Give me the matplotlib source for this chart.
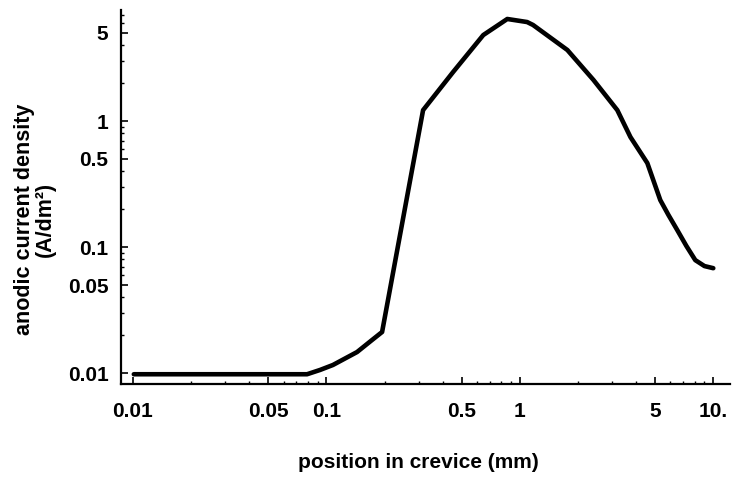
import matplotlib
matplotlib.use('Agg')
import matplotlib.pyplot as plt
from matplotlib.ticker import FixedLocator, FixedFormatter, NullFormatter

# posicion en la grieta (mm) y densidad de corriente anodica (A/dm2)
posicion = [0.0101, 0.0794, 0.0927, 0.108, 0.144, 0.172, 0.194, 0.316, 0.452, 0.647,
            0.861, 1.09, 1.17, 1.76, 2.40, 3.19, 3.73, 4.56, 5.32, 5.86, 6.52, 7.26,
            8.07, 9.0, 10.0]
densidad = [0.0098, 0.0098, 0.0106, 0.0116, 0.0147, 0.0183, 0.0212, 1.22, 2.45, 4.81,
            6.45, 6.1, 5.78, 3.66, 2.12, 1.22, 0.746, 0.464, 0.236, 0.18, 0.136, 0.102,
            0.0788, 0.0707, 0.068]

xticks = [0.01, 0.05, 0.1, 0.5, 1, 5, 10]
xtick_labels = ['0.01', '0.05', '0.1', '0.5', '1', '5', '10.']
yticks = [0.01, 0.05, 0.1, 0.5, 1, 5]
ytick_labels = ['0.01', '0.05', '0.1', '0.5', '1', '5']

plt.rcParams['font.family'] = ['Liberation Sans', 'DejaVu Sans']
plt.rcParams['font.weight'] = 'bold'

fig = plt.figure(figsize=(7.35, 4.86), dpi=100)
ax = fig.add_axes([121 / 735, 1 - 384 / 486, 609 / 735, 374 / 486])

ax.plot(posicion, densidad, color='black', lw=3.3, solid_capstyle='round', solid_joinstyle='round')
ax.set_xscale('log')
ax.set_yscale('log')
ax.set_xlim(0.00867, 12.2)
ax.set_ylim(0.0082, 7.6)

ax.spines['top'].set_visible(False)
ax.spines['right'].set_visible(False)
ax.spines['left'].set_linewidth(1.6)
ax.spines['bottom'].set_linewidth(1.6)

menores = []
for d in [0.01, 0.1, 1]:
    for k in range(2, 10):
        menores.append(d * k)

ax.xaxis.set_major_locator(FixedLocator(xticks))
ax.xaxis.set_major_formatter(FixedFormatter(xtick_labels))
ax.xaxis.set_minor_locator(FixedLocator([m for m in menores if m not in xticks]))
ax.xaxis.set_minor_formatter(NullFormatter())
ax.yaxis.set_major_locator(FixedLocator(yticks))
ax.yaxis.set_major_formatter(FixedFormatter(ytick_labels))
ax.yaxis.set_minor_locator(FixedLocator([m for m in menores if m not in yticks]))
ax.yaxis.set_minor_formatter(NullFormatter())

ax.tick_params(which='major', direction='in', length=5, width=1.2, labelsize=15)
ax.tick_params(which='minor', direction='in', length=2.5, width=1)
ax.tick_params(axis='x', which='major', pad=13)
ax.tick_params(axis='y', which='major', pad=9)

fig.text(418 / 735, 1 - 462 / 486, 'position in crevice (mm)', ha='center', va='center', fontsize=15)
fig.text(35 / 735, 1 - 219 / 486, 'anodic current density\n(A/dm²)', ha='center', va='center',
         rotation=90, multialignment='center', fontsize=15.5, linespacing=1.0)

fig.savefig('out.png', dpi=100)
